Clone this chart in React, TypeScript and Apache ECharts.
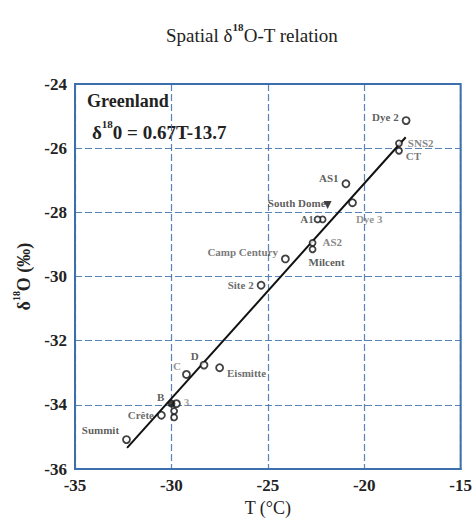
import React, { useEffect, useRef } from "react";
import * as echarts from "echarts";

const xTicks = [-35, -30, -25, -20, -15];
const yTicks = [-36, -34, -32, -30, -28, -26, -24];

const siteNames = ["Dye 2", "SNS2", "CT", "AS1", "Dye 3", "A1", "", "AS2", "Milcent", "Camp Century", "Site 2", "D", "C", "Eismitte", "3", "", "", "Crête", "Summit"];
const siteT = [-17.83, -18.2, -18.2, -20.95, -20.61, -22.16, -22.42, -22.68, -22.68, -24.09, -25.35, -28.31, -29.22, -27.5, -29.74, -29.86, -29.86, -30.52, -32.33];
const siteD18O = [-25.14, -25.85, -26.08, -27.11, -27.7, -28.22, -28.22, -28.95, -29.15, -29.45, -30.27, -32.76, -33.05, -32.84, -33.96, -34.19, -34.39, -34.32, -35.08];

const domeName = ["South Dome"];
const domeT = [-21.9];
const domeD18O = [-27.77];

const filledName = ["B"];
const filledT = [-30.0];
const filledD18O = [-33.96];

const fitSlope = 0.67;
const fitIntercept = -13.7;
const fitRange = [-32.3, -17.85];

// label placement: [position, dx, dy, color]
const placement: [string, number, number, string][] = [
  ["left", 0, -4, "#333"],
  ["right", 2, 0, "#666"],
  ["right", 0, 5, "#555"],
  ["left", 0, -6, "#333"],
  ["right", -4, 16, "#777"],
  ["left", -2, 0, "#333"],
  ["left", 0, 0, "#333"],
  ["right", 3, -1, "#666"],
  ["bottom", 14, 0, "#333"],
  ["left", 0, -7, "#555"],
  ["left", 0, 0, "#444"],
  ["left", 2, -9, "#333"],
  ["left", 2, -8, "#777"],
  ["right", 0, 5, "#444"],
  ["right", 0, -2, "#888"],
  ["left", 0, 0, "#333"],
  ["left", 0, 0, "#333"],
  ["left", 0, 0, "#444"],
  ["left", 0, -10, "#333"],
];

const serif = "'Liberation Serif', 'DejaVu Serif', serif";
const blue = "#3c6fae";

export default function App() {
  const ref = useRef<HTMLDivElement>(null);
  useEffect(() => {
    if (!ref.current) return;
    const chart = echarts.init(ref.current, null, { renderer: "svg" });
    const labelBase = {
      show: true,
      fontFamily: serif,
      fontSize: 11,
      fontWeight: "bold" as const,
      formatter: (p: any) => p.name,
    };
    const siteData = siteNames.map((n, i) => {
      const [pos, dx, dy, col] = placement[i];
      const small = n === "" || n === "SNS2" || n === "CT" || n === "AS2" || n === "Milcent" || n === "A1";
      return {
        name: n,
        value: [siteT[i], siteD18O[i]],
        symbolSize: small ? 6 : 7,
        label: { ...labelBase, position: pos, offset: [dx, dy], distance: 3, color: col },
      };
    });
    chart.setOption({
      animation: false,
      title: {
        text: "{a|Spatial δ}{s|18}{a|O-T relation}",
        left: 247,
        top: 16,
        textAlign: "center",
        textStyle: {
          fontWeight: "normal",
          rich: {
            a: { fontFamily: serif, fontSize: 19, fontWeight: "normal", color: "#222", lineHeight: 24, verticalAlign: "bottom" },
            s: { fontFamily: serif, fontSize: 11, color: "#222", lineHeight: 24, verticalAlign: "top", fontWeight: "bold" },
          },
        },
      },
      grid: { left: 75, right: 13, top: 84, bottom: 45, show: true, borderColor: blue, borderWidth: 2, containLabel: false },
      xAxis: {
        type: "value",
        min: xTicks[0],
        max: xTicks[xTicks.length - 1],
        interval: 5,
        name: "T (°C)",
        nameLocation: "middle",
        nameGap: 27,
        nameTextStyle: { fontFamily: serif, fontSize: 18, color: "#222" },
        axisLine: { show: true, lineStyle: { color: blue, width: 2 } },
        axisTick: { show: false },
        axisLabel: { fontFamily: serif, fontSize: 17, fontWeight: "bold", color: "#222", margin: 8 },
        splitLine: { show: true, lineStyle: { color: blue, type: [7, 3], width: 1.2, opacity: 0.85 } },
      },
      yAxis: {
        type: "value",
        min: yTicks[0],
        max: yTicks[yTicks.length - 1],
        interval: 2,
        name: "{a|δ}{s|18}{a|O (‰)}",
        nameLocation: "middle",
        nameGap: 28,
        nameRotate: 90,
        nameTextStyle: {
          rich: {
            a: { fontFamily: serif, fontSize: 18, fontWeight: "bold", color: "#222", lineHeight: 22, verticalAlign: "bottom" },
            s: { fontFamily: serif, fontSize: 10, fontWeight: "bold", color: "#222", lineHeight: 22, verticalAlign: "top" },
          },
        },
        axisLine: { show: true, lineStyle: { color: blue, width: 2 } },
        axisTick: { show: false },
        axisLabel: { fontFamily: serif, fontSize: 17, fontWeight: "bold", color: "#222", margin: 8 },
        splitLine: { show: true, lineStyle: { color: blue, type: [7, 3], width: 1.2, opacity: 0.85 } },
      },
      graphic: [
        { type: "text", left: 87, top: 92, style: { text: "Greenland", font: `bold 18px ${serif}`, fill: "#222" } },
        {
          type: "text",
          left: 92,
          top: 118,
          style: {
            text: "{a|δ}{s|18}{a|0 = 0.67T-13.7}",
            rich: {
              a: { fontFamily: serif, fontSize: 19, fontWeight: "bold", fill: "#222", lineHeight: 24, verticalAlign: "bottom" },
              s: { fontFamily: serif, fontSize: 11, fontWeight: "bold", fill: "#222", lineHeight: 24, verticalAlign: "top" },
            },
          },
        },
      ],
      series: [
        {
          type: "line",
          data: fitRange.map((t) => [t, fitSlope * t + fitIntercept]),
          symbol: "none",
          lineStyle: { color: "#111", width: 2 },
          silent: true,
          z: 1,
        },
        {
          type: "scatter",
          data: siteData,
          symbol: "circle",
          itemStyle: { color: "#fff", borderColor: "#111", borderWidth: 1.8 },
          z: 3,
        },
        {
          type: "scatter",
          data: domeName.map((n, i) => ({ name: n, value: [domeT[i], domeD18O[i]] })),
          symbol: "triangle",
          symbolRotate: 180,
          symbolSize: 8,
          itemStyle: { color: "#111" },
          label: { ...labelBase, position: "left", offset: [4, -2], distance: 2, color: "#333" },
          z: 4,
        },
        {
          type: "scatter",
          data: filledName.map((n, i) => ({ name: n, value: [filledT[i], filledD18O[i]] })),
          symbol: "circle",
          symbolSize: 8,
          itemStyle: { color: "#111" },
          label: { ...labelBase, position: "left", offset: [0, -7], distance: 3, color: "#333" },
          z: 4,
        },
      ],
    });
    return () => chart.dispose();
  }, []);
  return <div ref={ref} style={{ position: "absolute", left: 0, top: 0, width: 475, height: 522 }} />;
}
